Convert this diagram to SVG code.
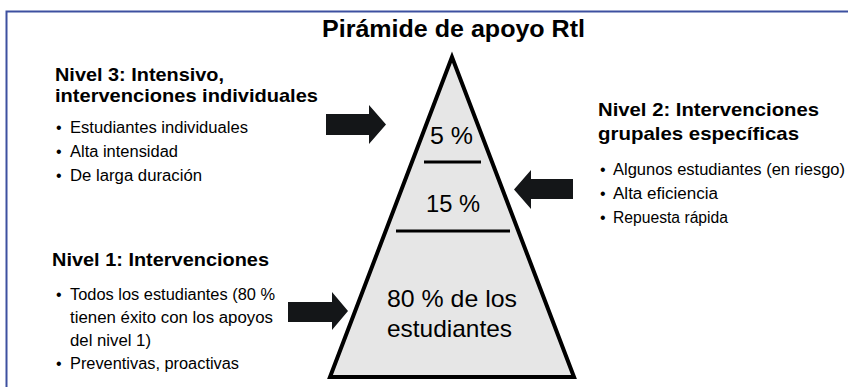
<svg xmlns="http://www.w3.org/2000/svg" width="848" height="387" viewBox="0 0 848 387">
<style>
text { font-family: "Liberation Sans", Arial, sans-serif; fill: #000; }
.h { font-size: 19px; font-weight: bold; }
.b { font-size: 16px; }
.p { font-size: 24px; text-anchor: middle; }
.t { font-size: 23px; font-weight: bold; text-anchor: middle; }
.arrow { fill: #141618; }
.sep { stroke: #000; stroke-width: 3; }
</style>
<rect x="6.5" y="11.5" width="900" height="400" fill="#fff" stroke="#3D50A0" stroke-width="2"/>
<g id="title"><text class="t" x="453.5" y="37" textLength="263" lengthAdjust="spacingAndGlyphs">Pirámide de apoyo Rtl</text></g>
<g id="pyramid">
<polygon points="452,57 330,377 574,377" fill="#E6E6E6" stroke="#000" stroke-width="4" stroke-linejoin="miter"/>
<line class="sep" x1="424" y1="162" x2="481" y2="162"/>
<line class="sep" x1="396" y1="231" x2="510" y2="231"/>
<text class="p" x="451.5" y="144" textLength="43" lengthAdjust="spacingAndGlyphs">5 %</text>
<text class="p" x="453" y="212" textLength="54" lengthAdjust="spacingAndGlyphs">15 %</text>
<text class="p" x="452" y="307" textLength="130" lengthAdjust="spacingAndGlyphs">80 % de los</text>
<text class="p" x="449.5" y="337" textLength="125" lengthAdjust="spacingAndGlyphs">estudiantes</text>
</g>
<g id="level3">
<text class="h" x="55" y="81" textLength="169" lengthAdjust="spacingAndGlyphs">Nivel 3: Intensivo,</text>
<text class="h" x="55" y="102" textLength="263" lengthAdjust="spacingAndGlyphs">intervenciones individuales</text>
<text class="b" x="56" y="133">•</text><text class="b" x="70" y="133" textLength="178" lengthAdjust="spacingAndGlyphs">Estudiantes individuales</text>
<text class="b" x="56" y="157">•</text><text class="b" x="70" y="157" textLength="108" lengthAdjust="spacingAndGlyphs">Alta intensidad</text>
<text class="b" x="56" y="181">•</text><text class="b" x="70" y="181" textLength="132" lengthAdjust="spacingAndGlyphs">De larga duración</text>
</g>
<g id="level2">
<text class="h" x="598" y="116" textLength="221" lengthAdjust="spacingAndGlyphs">Nivel 2: Intervenciones</text>
<text class="h" x="598" y="140" textLength="201" lengthAdjust="spacingAndGlyphs">grupales específicas</text>
<text class="b" x="600" y="175">•</text><text class="b" x="613" y="175" textLength="232" lengthAdjust="spacingAndGlyphs">Algunos estudiantes (en riesgo)</text>
<text class="b" x="600" y="199">•</text><text class="b" x="613" y="199" textLength="105" lengthAdjust="spacingAndGlyphs">Alta eficiencia</text>
<text class="b" x="600" y="223">•</text><text class="b" x="613" y="223" textLength="115" lengthAdjust="spacingAndGlyphs">Repuesta rápida</text>
</g>
<g id="level1">
<text class="h" x="52" y="266" textLength="217" lengthAdjust="spacingAndGlyphs">Nivel 1: Intervenciones</text>
<text class="b" x="56" y="300">•</text><text class="b" x="70" y="300" textLength="205" lengthAdjust="spacingAndGlyphs">Todos los estudiantes (80 %</text>
<text class="b" x="70" y="323" textLength="203" lengthAdjust="spacingAndGlyphs">tienen éxito con los apoyos</text>
<text class="b" x="70" y="346" textLength="81" lengthAdjust="spacingAndGlyphs">del nivel 1)</text>
<text class="b" x="56" y="369">•</text><text class="b" x="70" y="369" textLength="169" lengthAdjust="spacingAndGlyphs">Preventivas, proactivas</text>
</g>
<g id="connectors">
<polygon class="arrow" points="326,114 369,114 369,105 386,124.5 369,144 369,135 326,135"/>
<polygon class="arrow" points="573,179 531,179 531,170 514,189.5 531,209 531,199 573,199"/>
<polygon class="arrow" points="288,302 332,302 332,292 348,311 332,330 332,322 288,322"/>
</g>
</svg>
